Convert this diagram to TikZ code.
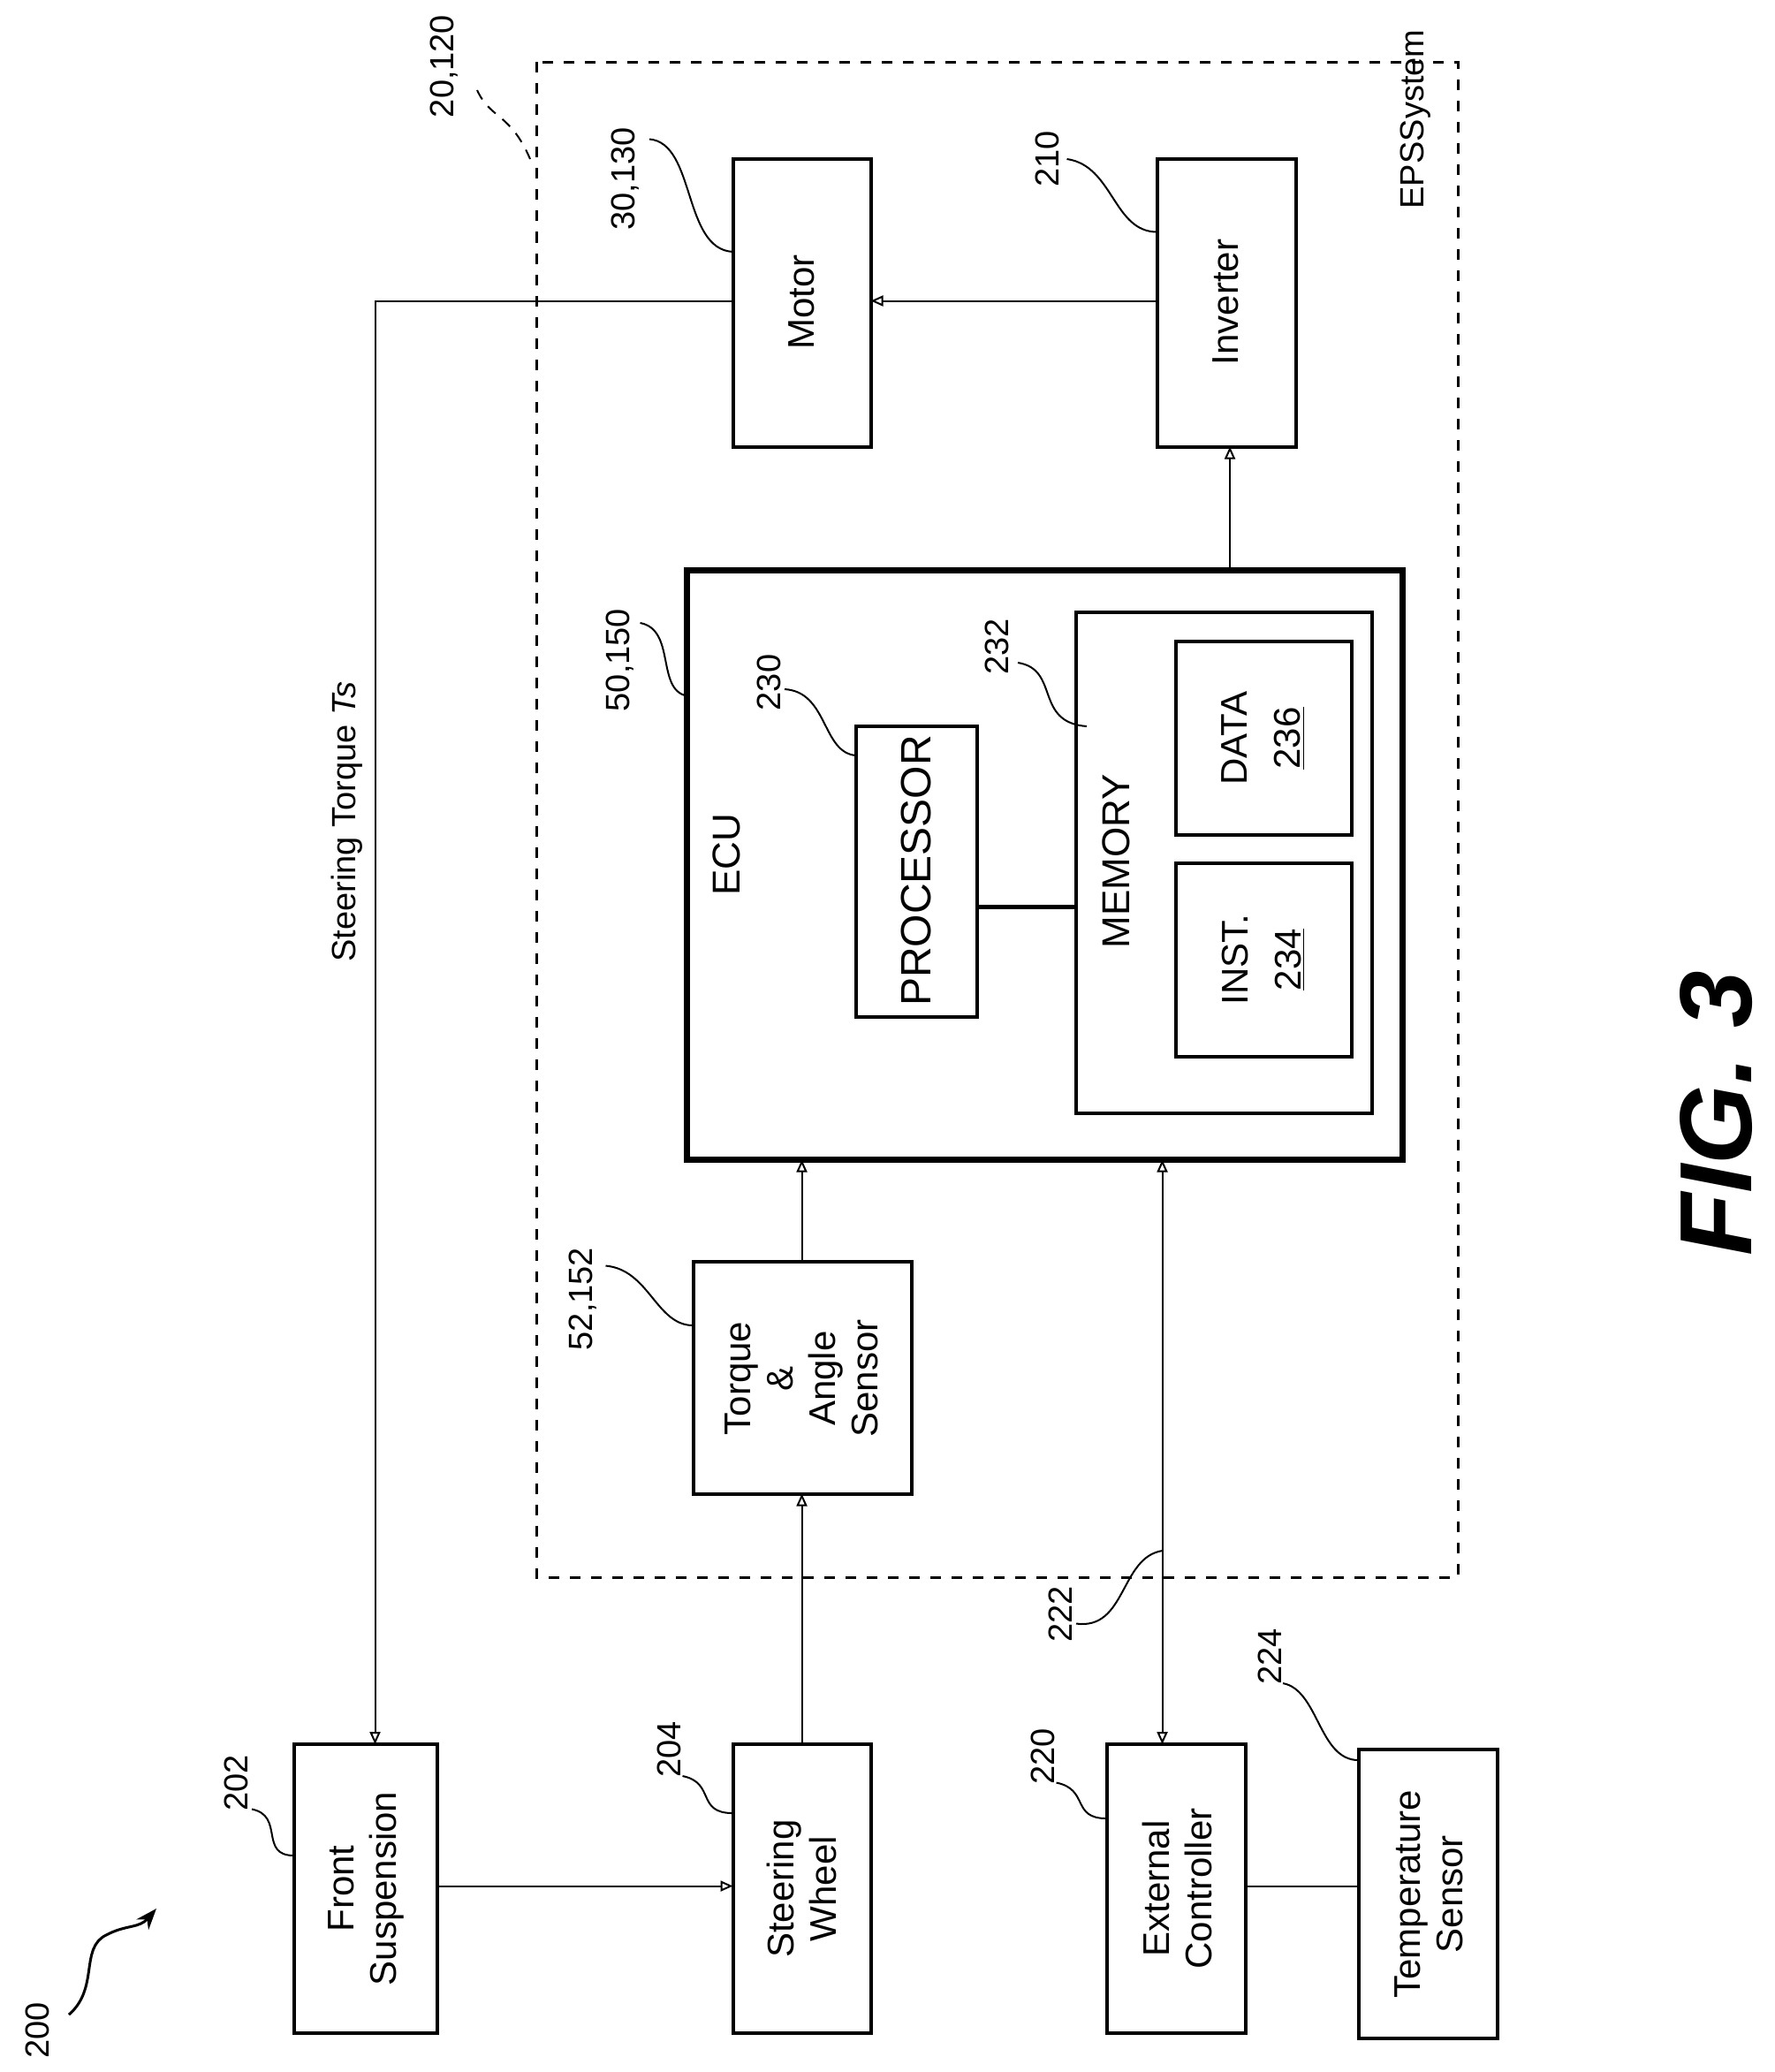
\documentclass[tikz,border=0pt]{standalone}
\usepackage{fontspec}
\setmainfont{Liberation Sans}
\usetikzlibrary{arrows.meta}
\begin{document}
\begin{tikzpicture}[x=0.75pt,y=-0.75pt,
  box/.style={draw,line width=2pt},
  txt/.style={rotate=90,align=center,font=\fontsize{21}{24}\selectfont},
  lbl/.style={rotate=90,font=\fontsize{19}{22}\selectfont},
  lead/.style={line width=1pt},
  conn/.style={line width=1pt},
  arr/.style={conn,-{Triangle[open,length=7pt,width=6pt]}}]
\useasboundingbox (0,0) rectangle (1339.3,1563.3);
% EPS dashed
\draw[line width=1.5pt,dash pattern=on 6pt off 6pt] (405,47) rectangle (1100,1190);
\node[lbl] (eps) at (1068,90) {EPS\\System};
\node[lbl,align=center] at (1068,90) {};
% boxes
\draw[box] (553,120) rectangle (657,337); \node[txt] (motor) at (605,228) {Motor};
\draw[box] (873,120) rectangle (978,337); \node[txt] (inv) at (925,228) {Inverter};
\draw[line width=3.5pt] (518,430) rectangle (1058,875);
\node[txt,font=\fontsize{22}{26}\selectfont] (ecu) at (548,645) {ECU};
\draw[box] (812,462) rectangle (1035,840);
\node[txt,font=\fontsize{22}{26}\selectfont] (mem) at (842,650) {MEMORY};
\draw[box] (887,484) rectangle (1020,630);
\node[txt] (data) at (953,557) {DATA\\[6pt]\underline{236}};
\draw[box] (887,651) rectangle (1020,797);
\node[txt] (inst) at (953,724) {INST.\\[6pt]\underline{234}};
\draw[box] (646,548) rectangle (737,767);
\node[txt,font=\fontsize{24}{28}\selectfont] (proc) at (691,657) {PROCESSOR};
\draw[line width=2.5pt] (737,684) -- (812,684);
\draw[box] (523,952) rectangle (688,1127);
\node[txt] (tas) at (605,1040) {Torque\\\&\\Angle\\Sensor};
\draw[box] (222,1316) rectangle (330,1534);
\node[txt] (fs) at (276,1425) {Front\\Suspension};
\draw[box] (553,1316) rectangle (657,1534);
\node[txt] (sw) at (605,1425) {Steering\\Wheel};
\draw[box] (835,1316) rectangle (940,1534);
\node[txt] (ext) at (888,1425) {External\\Controller};
\draw[box] (1025,1320) rectangle (1130,1538);
\node[txt] (temp) at (1078,1429) {Temperature\\Sensor};
% connectors
\coordinate (a1) at (873,227); \coordinate (a2) at (657,227);
\draw[arr] (a1) -- (a2);
\coordinate (b1) at (928,430); \coordinate (b2) at (928,337);
\draw[arr] (b1) -- (b2);
\coordinate (c1) at (553,227); \coordinate (c2) at (283,227); \coordinate (c3) at (283,1316);
\draw[arr] (c1) -- (c2) -- (c3);
\coordinate (d1) at (330,1423); \coordinate (d2) at (553,1423);
\draw[arr] (d1) -- (d2);
\coordinate (e1) at (605,1316); \coordinate (e2) at (605,1127);
\draw[arr] (e1) -- (e2);
\coordinate (f1) at (605,952); \coordinate (f2) at (605,875);
\draw[arr] (f1) -- (f2);
\coordinate (g1) at (877,875); \coordinate (g2) at (877,1316);
\draw[conn,{Triangle[open,length=7pt,width=6pt]}-{Triangle[open,length=7pt,width=6pt]}] (g1) -- (g2);
\coordinate (h1) at (940,1423); \coordinate (h2) at (1025,1423);
\draw[conn] (h1) -- (h2);
\node[lbl] (st) at (262,620) {Steering Torque \textit{Ts}};
% labels and leaders
\node[lbl] (l200) at (28,1532) {200};
\draw[line width=1.5pt,-{Stealth[length=12pt,width=9pt]}] (52,1520) .. controls (75,1500) and (60,1470) .. (80,1460) .. controls (95,1452) and (105,1455) .. (118,1440);
\node[lbl] (l202) at (178,1345) {202};
\draw[lead] (190,1365) .. controls (215,1370) and (195,1400) .. (222,1400);
\node[lbl] (l204) at (505,1320) {204};
\draw[lead] (515,1340) .. controls (540,1345) and (525,1368) .. (553,1368);
\node[lbl] (l220) at (787,1325) {220};
\draw[lead] (797,1345) .. controls (822,1350) and (808,1372) .. (835,1372);
\node[lbl] (l224) at (958,1250) {224};
\draw[lead] (968,1270) .. controls (995,1275) and (995,1328) .. (1025,1328);
\node[lbl] (l222) at (800,1218) {222};
\draw[lead] (812,1225) .. controls (850,1230) and (845,1175) .. (877,1170);
\node[lbl] (l52) at (440,980) {52,152};
\draw[lead] (457,955) .. controls (490,958) and (495,1000) .. (523,1000);
\node[lbl] (l50) at (468,498) {50,150};
\draw[lead] (483,470) .. controls (510,475) and (495,520) .. (518,525);
\node[lbl] (l230) at (580,515) {230};
\draw[lead] (592,520) .. controls (625,522) and (620,568) .. (646,570);
\node[lbl] (l232) at (752,488) {232};
\draw[lead] (768,500) .. controls (800,505) and (780,545) .. (820,548);
\node[lbl] (l30) at (472,135) {30,130};
\draw[lead] (490,105) .. controls (525,108) and (515,188) .. (553,190);
\node[lbl] (l210) at (790,120) {210};
\draw[lead] (805,120) .. controls (840,125) and (840,175) .. (873,175);
\node[lbl] (l20) at (335,50) {20,120};
\draw[lead,dash pattern=on 6pt off 5pt] (360,68) .. controls (370,90) and (385,85) .. (400,120);
\node[rotate=90,font=\fontsize{58}{60}\selectfont\bfseries\itshape] (fig) at (1295,840) {FIG. 3};
\end{tikzpicture}
\end{document}
